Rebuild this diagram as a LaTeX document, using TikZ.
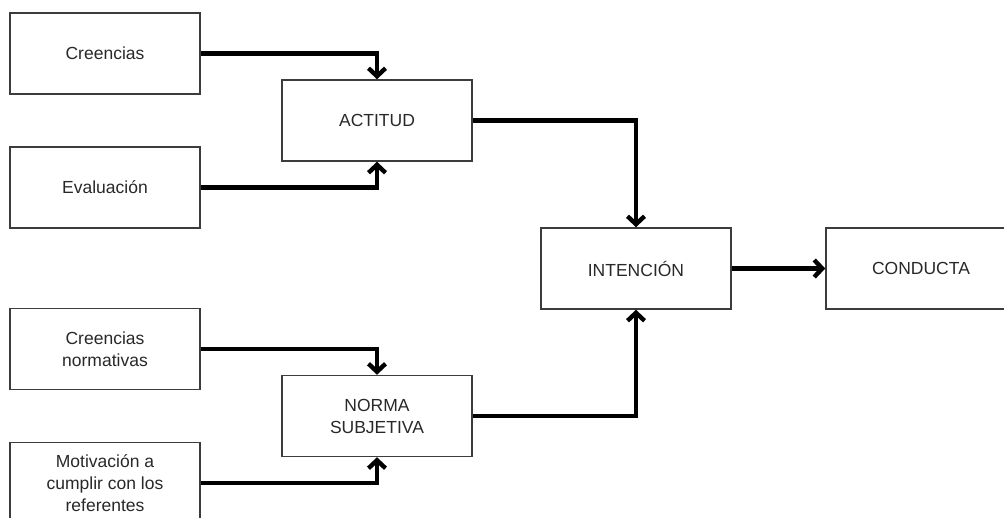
\documentclass[tikz,border=0pt]{standalone}
\usepackage{fontspec}
\setmainfont{Liberation Sans}
\definecolor{BoxGray}{RGB}{60,60,60}
\definecolor{TextGray}{RGB}{40,40,40}
\usetikzlibrary{positioning,arrows.meta}
\tikzset{>={Straight Barb[length=8pt,width=17pt]}}
\tikzset{mybox/.style={draw=BoxGray,line width=1.5pt,rectangle,minimum width=190pt,minimum height=81pt,inner sep=0pt,align=center,text=TextGray,font=\fontsize{17.5}{22}\selectfont}}
\tikzset{myarrow/.style={->,line width=4.4pt,black}}

\begin{document}
\begin{tikzpicture}[x=1pt,y=-1pt]
    \useasboundingbox (0,0) rectangle (1004,518);
    \clip (0,0) rectangle (1004,518);
    \node[mybox] (cre) at (105,53.5) {Creencias};
    \node[mybox] (eva) at (105,187.5) {Evaluación};
    \node[mybox] (act) at (377,120.5) {ACTITUD};
    \node[mybox] (crn) at (105,349) {Creencias\\normativas};
    \node[mybox] (mot) at (105,483) {Motivación a\\cumplir con los\\referentes};
    \node[mybox] (nor) at (377,416) {NORMA\\SUBJETIVA};
    \node[mybox] (int) at (636,268.5) {INTENCIÓN};
    \node[mybox] (con) at (921,268.5) {CONDUCTA};
    \draw[myarrow] (cre.east) -| (act.north);
    \draw[myarrow] (eva.east) -| (act.south);
    \draw[myarrow] (crn.east) -| (nor.north);
    \draw[myarrow] (mot.east) -| (nor.south);
    \draw[myarrow] (act.east) -| (int.north);
    \draw[myarrow] (nor.east) -| (int.south);
    \draw[myarrow] (int) -- (con);
\end{tikzpicture}
\end{document}
